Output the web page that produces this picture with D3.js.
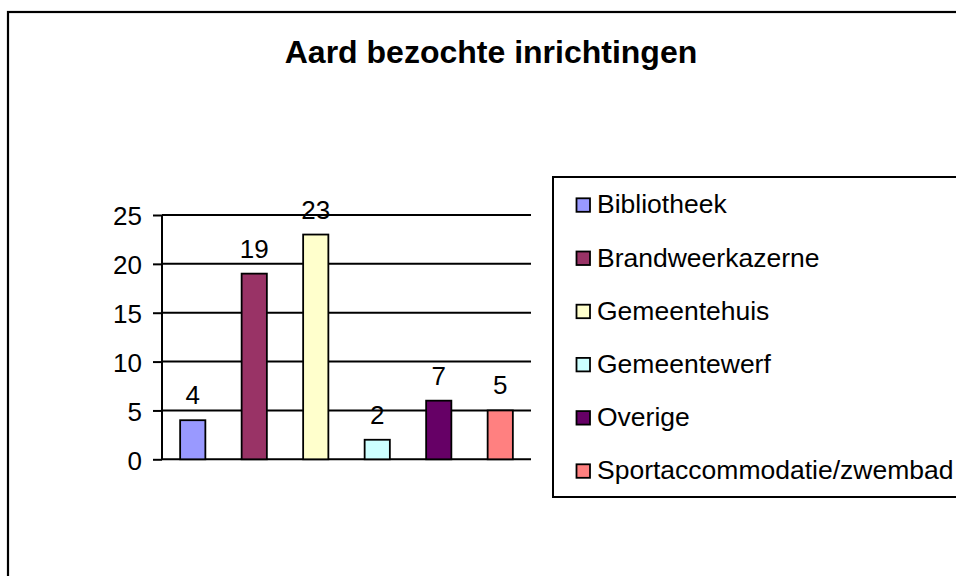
<!DOCTYPE html>
<html>
<head>
<meta charset="utf-8">
<script src="https://cdn.jsdelivr.net/npm/d3@7"></script>
<style>
  html, body { margin: 0; padding: 0; background: #fff; }
  svg { display: block; font-family: "Liberation Sans", Arial, sans-serif; }
</style>
</head>
<body>
<svg id="chart" width="956" height="576"></svg>
<script>
// Chart data
const categories = ['Bibliotheek', 'Brandweerkazerne', 'Gemeentehuis', 'Gemeentewerf', 'Overige', 'Sportaccommodatie/zwembad'];
const values = [4, 19, 23, 2, 6, 5];          // bar heights as drawn
const valueLabels = [4, 19, 23, 2, 7, 5];     // numbers printed above bars
const colors = ['#9999ff', '#993366', '#ffffcc', '#ccffff', '#660066', '#ff8080'];
const yTicks = [0, 5, 10, 15, 20, 25];

const svg = d3.select('#chart');

// Outer frame (runs off the right and bottom edges)
svg.append('rect')
  .attr('x', 8).attr('y', 12)
  .attr('width', 1000).attr('height', 700)
  .attr('fill', 'none')
  .attr('stroke', '#000')
  .attr('stroke-width', 2.2);

// Title
svg.append('text')
  .attr('x', 491)
  .attr('y', 63)
  .attr('text-anchor', 'middle')
  .style('font-size', '32px')
  .style('font-weight', 'bold')
  .text('Aard bezochte inrichtingen');

// Scales
const plot = { left: 162, right: 531, top: 215, bottom: 459.3 };

const xScale = d3.scaleBand()
  .domain(categories)
  .range([plot.left, plot.right])
  .paddingInner(0.59)
  .paddingOuter(0.295);

const yScale = d3.scaleLinear()
  .domain([0, 25])
  .range([plot.bottom, plot.top]);

// Gridlines
svg.append('g')
  .selectAll('line')
  .data(yTicks)
  .enter().append('line')
  .attr('x1', plot.left)
  .attr('x2', plot.right)
  .attr('y1', d => yScale(d))
  .attr('y2', d => yScale(d))
  .attr('stroke', '#000')
  .attr('stroke-width', 2);

// Y axis
const yAxis = svg.append('g')
  .attr('transform', `translate(${plot.left}, 0)`)
  .call(d3.axisLeft(yScale).tickValues(yTicks).tickSize(9).tickPadding(11));

yAxis.select('.domain')
  .attr('stroke', '#000')
  .attr('stroke-width', 2)
  .attr('d', `M0,${plot.bottom}V${plot.top}`);
yAxis.selectAll('.tick line').attr('stroke', '#000').attr('stroke-width', 2);
yAxis.selectAll('.tick text')
  .attr('dy', '0.38em')
  .style('font-size', '26px')
  .style('font-family', '"Liberation Sans", Arial, sans-serif')
  .attr('fill', '#000');

// Bars
svg.append('g')
  .selectAll('rect')
  .data(categories)
  .enter().append('rect')
  .attr('x', d => xScale(d))
  .attr('y', (d, i) => yScale(values[i]))
  .attr('width', xScale.bandwidth())
  .attr('height', (d, i) => yScale(0) - yScale(values[i]))
  .attr('fill', (d, i) => colors[i])
  .attr('stroke', '#000')
  .attr('stroke-width', 1.8);

// Value labels
svg.append('g')
  .selectAll('text')
  .data(categories)
  .enter().append('text')
  .attr('x', d => xScale(d) + xScale.bandwidth() / 2)
  .attr('y', (d, i) => yScale(values[i]) - 16)
  .attr('text-anchor', 'middle')
  .style('font-size', '26px')
  .text((d, i) => valueLabels[i]);

// Legend
const legendBox = { x: 553, y: 177, bottom: 497 };
svg.append('rect')
  .attr('x', legendBox.x)
  .attr('y', legendBox.y)
  .attr('width', 500)
  .attr('height', legendBox.bottom - legendBox.y)
  .attr('fill', '#fff')
  .attr('stroke', '#000')
  .attr('stroke-width', 2);

const legendScale = d3.scalePoint()
  .domain(categories)
  .range([213.3, 479.3]);

const legendItems = svg.append('g')
  .selectAll('g')
  .data(categories)
  .enter().append('g')
  .attr('transform', d => `translate(0, ${legendScale(d)})`);

legendItems.append('rect')
  .attr('x', 576.5)
  .attr('y', -15)
  .attr('width', 13.5)
  .attr('height', 13.5)
  .attr('fill', (d, i) => colors[i])
  .attr('stroke', '#000')
  .attr('stroke-width', 1.8);

legendItems.append('text')
  .attr('x', 597)
  .attr('y', 0)
  .style('font-size', '26.5px')
  .text(d => d);
</script>
</body>
</html>
